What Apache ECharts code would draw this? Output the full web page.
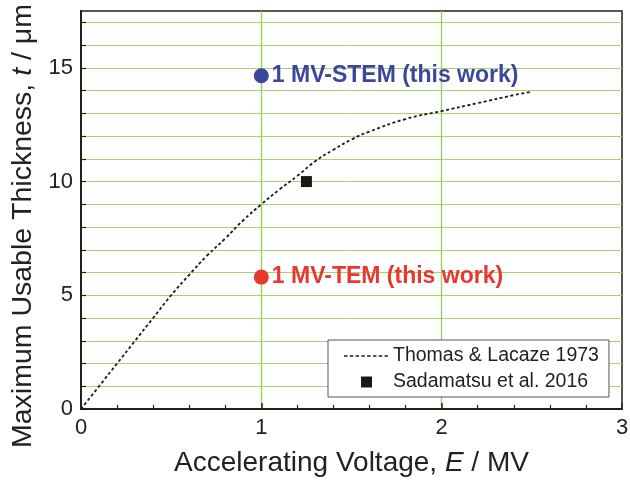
<!DOCTYPE html>
<html><head><meta charset="utf-8">
<script src="https://cdn.jsdelivr.net/npm/echarts@6/dist/echarts.min.js"></script>
<style>html,body{margin:0;padding:0;background:#fff}#c{width:630px;height:484px}</style>
</head><body><div id="c"></div>
<script>
// Thomas & Lacaze 1973 curve (E in MV, t in µm)
const curveE = [0, 0.1, 0.2, 0.3, 0.4, 0.5, 0.6, 0.7, 0.8, 0.9, 1.0, 1.1, 1.2, 1.3, 1.4, 1.5, 1.6, 1.8, 2.0, 2.2, 2.4, 2.5];
const curveT = [0, 1.0, 2.0, 3.0, 4.0, 5.0, 5.9, 6.75, 7.5, 8.3, 9.0, 9.65, 10.25, 10.9, 11.4, 11.85, 12.2, 12.75, 13.1, 13.45, 13.8, 13.95];
// Sadamatsu et al. 2016
const sadaE = [1.25];
const sadaT = [10.0];
// This work
const stemE = [1.0], stemT = [14.65];
const temE = [1.0], temT = [5.8];
const xTicks = [0, 1, 2, 3];
const yTicks = [0, 5, 10, 15];

const F = '"Liberation Sans", Arial, sans-serif';
const green = '#a3d672';
const dark = '#231f1f';

// legend icons (drawn in a 44x12 box)
let dashIcon = 'path://M0,0L0,0M44,12L44,12';
for (let x = 0; x < 43; x += 6) dashIcon += 'M' + x + ',5.2h3.6v1.6h-3.6z';
const squareIcon = 'path://M0,0L0,0M44,12L44,12M17,0.5h11v11h-11z';

const chart = echarts.init(document.getElementById('c'));
chart.setOption({
  animation: false,
  textStyle: {fontFamily: F},
  grid: {left: 81, top: 11, right: 8, bottom: 75, show: true, borderColor: dark, borderWidth: 1.5,
         backgroundColor: 'transparent', outerBoundsMode: 'none', containLabel: false},
  legend: {
    left: 328, top: 340,
    orient: 'vertical', padding: [6, 10, 5, 16], itemGap: 6,
    borderColor: '#555', borderWidth: 1, backgroundColor: '#fff',
    itemWidth: 44, itemHeight: 12,
    textStyle: {fontSize: 19.5, color: '#222', fontFamily: F},
    data: [
      {name: 'Thomas & Lacaze 1973', icon: dashIcon},
      {name: 'Sadamatsu et al. 2016', icon: squareIcon}
    ]
  },
  xAxis: {
    type: 'value', min: 0, max: 3, interval: 1,
    name: 'Accelerating Voltage, {i|E} / MV', nameLocation: 'middle', nameGap: 40,
    nameTextStyle: {fontSize: 28, color: '#222', fontFamily: F, rich: {i: {fontSize: 28, fontStyle: 'italic', color: '#222', fontFamily: F}}},
    axisLine: {lineStyle: {color: dark, width: 2}},
    axisTick: {inside: true, length: 6, lineStyle: {color: dark, width: 1.5}},
    minorTick: {show: true, splitNumber: 5, length: 4, lineStyle: {color: dark, width: 1.2}},
    axisLabel: {fontSize: 22, color: '#222', margin: 8, formatter: v => xTicks.includes(v) ? String(v) : ''},
    splitLine: {show: true, showMinLine: false, showMaxLine: false, lineStyle: {color: '#92cf55', width: 1.3}}
  },
  yAxis: {
    type: 'value', min: 0, max: 17.5, interval: 1,
    name: 'Maximum Usable Thickness, {i|t} / μm', nameLocation: 'middle', nameGap: 38,
    nameTextStyle: {fontSize: 28.5, color: '#222', fontFamily: F, padding: [0, 32, 0, 0],
      rich: {i: {fontSize: 28.5, fontStyle: 'italic', color: '#222', fontFamily: F}}},
    axisLine: {lineStyle: {color: dark, width: 2}},
    axisTick: {inside: true, length: 5, lineStyle: {color: dark, width: 1.2}},
    axisLabel: {fontSize: 22, color: '#222', margin: 8, showMaxLabel: false, formatter: v => yTicks.includes(v) ? String(v) : ''},
    splitLine: {show: true, showMinLine: false, showMaxLine: false, lineStyle: {color: green, width: 1}}
  },
  series: [{
    name: 'Thomas & Lacaze 1973', type: 'line', smooth: true, symbol: 'none',
    lineStyle: {color: '#1a1a1a', width: 1.8, type: [3, 2.5]},
    itemStyle: {color: '#1a1a1a'},
    data: curveE.map((e, i) => [e, curveT[i]]), z: 3
  }, {
    name: 'Sadamatsu et al. 2016', type: 'scatter', symbol: 'rect', symbolSize: 11,
    itemStyle: {color: '#1a1717', opacity: 1},
    data: sadaE.map((e, i) => [e, sadaT[i]]), z: 4
  }, {
    name: 'stem', type: 'scatter', symbol: 'circle', symbolSize: 15,
    itemStyle: {color: '#3a479c', opacity: 1},
    label: {show: true, position: 'right', distance: 3, formatter: '1 MV-STEM (this work)', fontSize: 23, fontWeight: 'bold', color: '#3a479c', fontFamily: F},
    data: stemE.map((e, i) => [e, stemT[i]]), z: 5
  }, {
    name: 'tem', type: 'scatter', symbol: 'circle', symbolSize: 15,
    itemStyle: {color: '#e8372f', opacity: 1},
    label: {show: true, position: 'right', distance: 3, formatter: '1 MV-TEM (this work)', fontSize: 23, fontWeight: 'bold', color: '#e8372f', fontFamily: F},
    data: temE.map((e, i) => [e, temT[i]]), z: 5
  }]
});
</script></body></html>
